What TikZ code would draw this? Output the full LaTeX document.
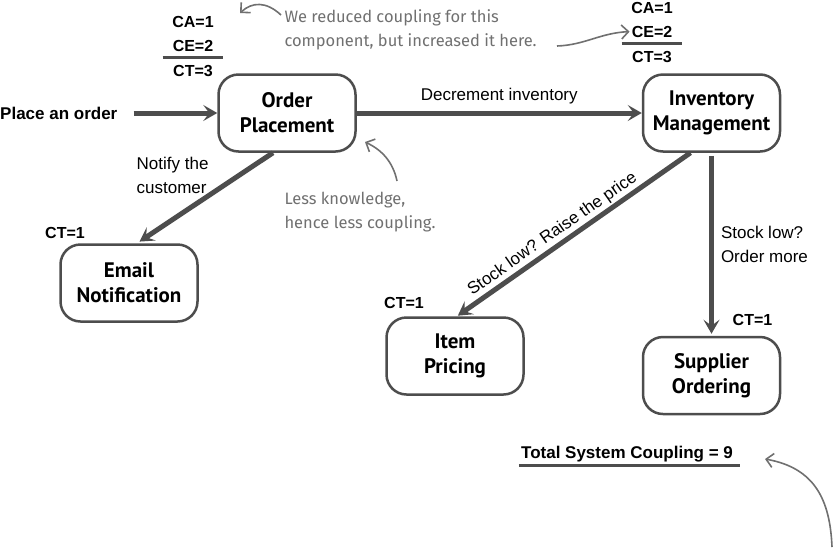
\documentclass[tikz,border=0pt]{standalone}
\usepackage{fontspec}
\setmainfont{Liberation Sans}
\newfontfamily\boxfont{PT Sans}
\newfontfamily\notefont{Fira Sans}
\usetikzlibrary{arrows.meta, positioning}
\definecolor{linegray}{HTML}{4D4D4D}
\definecolor{notegray}{HTML}{707070}

\begin{document}
\begin{tikzpicture}[x=1pt, y=-1pt,
    box/.style={draw=linegray, line width=2.5pt, rounded corners=20pt, minimum width=137pt, minimum height=77pt, align=center, font=\boxfont\bfseries\fontsize{21}{25}\selectfont},
    arr/.style={-{Stealth[length=14pt, width=16pt, inset=6pt]}, line width=5pt, draw=linegray},
    lbl/.style={font=\fontsize{17}{24}\selectfont, inner sep=2pt},
    stack/.style={font=\bfseries\fontsize{16}{24}\selectfont, inner sep=2pt, text height=12pt, text depth=0pt},
    rule/.style={line width=3pt, draw=linegray},
    note/.style={font=\notefont\fontsize{16.5}{24}\selectfont, text=notegray, align=left},
    notearr/.style={-{Straight Barb[length=7pt, width=14pt]}, line width=1.6pt, draw=notegray}
]
\useasboundingbox (0,0) rectangle (834,547);

% components
\node[box] (order) at (287,113) {Order\\Placement};
\node[box, right=285pt of order] (inv) {Inventory\\Management};
\node[box] (email) at (129,283) {Email\\Notification};
\node[box] (item) at (455,356) {Item\\Pricing};
\node[box, below=183pt of inv] (supp) {Supplier\\Ordering};

% calls
\node[stack, anchor=west, font=\bfseries\fontsize{17}{24}\selectfont] (place) at (-2,113) {Place an order};
\draw[arr, shorten <=14pt] (place) -- (order);
\draw[arr] (order) -- node[lbl, above=4pt] {Decrement inventory} (inv);
\draw[arr, shorten >=3pt] ([xshift=-14pt]order.south) -- node[lbl, above left=0pt and -8pt, align=left] {Notify the\\customer} ([xshift=8pt]email.north);
\draw[arr, shorten >=1pt] ([xshift=-21pt]inv.south) -- node[lbl, sloped, above=0pt, pos=0.56] {Stock low? Raise the price} ([xshift=2pt]item.north);
\draw[arr, shorten <=3pt, shorten >=2pt] (inv) -- node[lbl, right=5pt, align=left] {Stock low?\\Order more} (supp);

% coupling counts
\node[stack] (ct3a) at (193,70) {CT=3};
\node[stack, above=8pt of ct3a] (ce2a) {CE=2};
\node[stack, above=8pt of ce2a] (ca1a) {CA=1};
\draw[rule] ([xshift=-8pt, yshift=-4pt]ce2a.south west) -- ([xshift=8pt, yshift=-4pt]ce2a.south east);

\node[stack] (ct3b) at (652,56) {CT=3};
\node[stack, above=8pt of ct3b] (ce2b) {CE=2};
\node[stack, above=8pt of ce2b] (ca1b) {CA=1};
\draw[rule] ([xshift=-8pt, yshift=-4pt]ce2b.south west) -- ([xshift=8pt, yshift=-4pt]ce2b.south east);

\node[stack, above left=3pt and 42pt of email.north] (ctemail) {CT=1};
\node[stack, above left=6pt and 29pt of item.north] (ctitem) {CT=1};
\node[stack, above right=8pt and 19pt of supp.north] (ctsupp) {CT=1};

\node[stack, font=\bfseries\fontsize{17}{24}\selectfont] (total) at (627,452) {Total System Coupling = 9};
\draw[rule] ([yshift=-5pt]total.south west) -- ([xshift=5pt, yshift=-5pt]total.south east);

% handwritten notes
\node[note, anchor=west] (notecoup) at (281,30) {We reduced coupling for this\\component, but increased it here.};
\coordinate (c1s) at (281,15);
\coordinate (c1e) at (240,13);
\draw[notearr] (c1s) .. controls (266,1) and (252,2) .. (c1e);
\coordinate (c2s) at (557,46);
\draw[notearr] (c2s) .. controls (585,45) and (600,33) .. (ce2b.west);

\node[note, anchor=west] (noteless) at (281,212) {Less knowledge,\\hence less coupling.};
\coordinate (c3s) at (397,181);
\coordinate (c3e) at (365,142);
\draw[notearr] (c3s) .. controls (393,162) and (382,150) .. (c3e);

\coordinate (c4s) at (832,547);
\coordinate (c4e) at (765,459);
\draw[notearr] (c4s) .. controls (830,500) and (815,468) .. (c4e);
\end{tikzpicture}
\end{document}
